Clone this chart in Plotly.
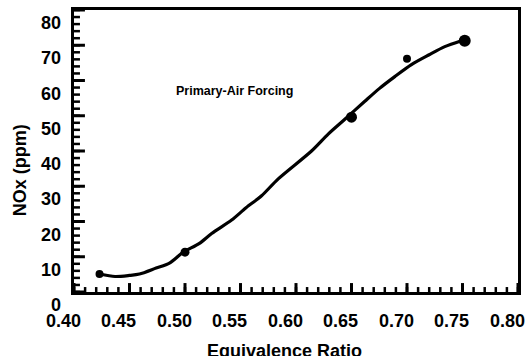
import plotly.graph_objects as go

# Smoothed NOx trend against equivalence ratio
curve_phi = [0.423, 0.437, 0.450, 0.459, 0.474, 0.486, 0.498, 0.513, 0.524, 0.542,
             0.555, 0.569, 0.584, 0.614, 0.629, 0.644, 0.662, 0.675, 0.689, 0.704,
             0.720, 0.734, 0.749]
curve_nox = [5.1, 4.4, 4.7, 5.1, 6.8, 8.2, 11.2, 13.8, 16.6, 20.4,
             23.9, 27.3, 32.1, 40.0, 44.8, 49.0, 54.1, 57.7, 61.1, 64.5,
             67.3, 69.6, 71.3]

# Measured points
meas_phi = [0.423, 0.500, 0.650, 0.700, 0.752]
meas_nox = [5.1, 11.3, 49.6, 66.2, 71.3]
meas_size = [8, 9, 11, 8, 12]

x_ticks = [0.40, 0.45, 0.50, 0.55, 0.60, 0.65, 0.70, 0.75, 0.80]
x_tick_text = ["0.40", "0.45", "0.50", "0.55", "0.60", "0.65", "0.70", "0.75", "0.80"]
y_ticks = [0, 10, 20, 30, 40, 50, 60, 70, 80]
y_tick_text = ["0", "10", "20", "30", "40", "50", "60", "70", "80"]

x_range = [0.40, 0.80]
y_range = [0, 80]
x_minor_count = 40   # one short tick every 0.01
y_minor_count = 40   # one short tick every 2 ppm

FONT = "Liberation Sans, Arial, sans-serif"
BOLD = dict(family=FONT, size=18, color="black", weight="bold")

# plot area in pixels, used to express tick lengths in data units
W, H = 528, 356
M_L, M_R, M_T, M_B = 74, 7, 8, 64
px_x = (x_range[1] - x_range[0]) / (W - M_L - M_R)
px_y = (y_range[1] - y_range[0]) / (H - M_T - M_B)

x_minor_vals = [round(x_range[0] + i * (x_range[1] - x_range[0]) / x_minor_count, 4)
                for i in range(x_minor_count + 1)]
y_minor_vals = [y_range[0] + i * (y_range[1] - y_range[0]) / y_minor_count
                for i in range(y_minor_count + 1)]


def tick_segments(values, length, along_x):
    xs, ys = [], []
    for v in values:
        v = float(v)
        if along_x:
            xs += [v, v, None]
            ys += [float(y_range[0]), y_range[0] + length * px_y, None]
        else:
            xs += [float(x_range[0]), x_range[0] + length * px_x, None]
            ys += [v, v, None]
    return xs, ys


fig = go.Figure()

# inward tick marks along the bottom and left axes
for vals, length, along_x, width in [
    (x_minor_vals, 5, True, 2.5), (x_ticks, 9, True, 3),
    (y_minor_vals, 6, False, 2.5), (y_ticks, 11, False, 3),
]:
    tx, ty = tick_segments(vals, length, along_x)
    fig.add_trace(go.Scatter(x=tx, y=ty, mode="lines",
                             line=dict(color="#000000", width=width),
                             showlegend=False, hoverinfo="skip"))

fig.add_trace(go.Scatter(
    x=curve_phi, y=curve_nox, mode="lines",
    line=dict(color="black", width=3.2, shape="spline", smoothing=0.8),
    showlegend=False, hoverinfo="skip"))
fig.add_trace(go.Scatter(
    x=meas_phi, y=meas_nox, mode="markers",
    marker=dict(color="black", size=meas_size, opacity=1,
                line=dict(color="black", width=0)),
    opacity=1, showlegend=False, cliponaxis=False))

# tick labels, printed slightly offset from their tick marks
for v, t in zip(x_ticks, x_tick_text):
    fig.add_annotation(x=v, y=0, xref="x", yref="y domain", text=t, showarrow=False,
                       font=BOLD, xanchor="center", yanchor="top",
                       xshift=-11, yshift=-17)
for v, t in zip(y_ticks, y_tick_text):
    fig.add_annotation(x=0, y=v, xref="x domain", yref="y", text=t, showarrow=False,
                       font=BOLD, xanchor="right", yanchor="middle",
                       xshift=-11, yshift=-13)

fig.add_annotation(
    x=0.545, y=56.9, xref="x", yref="y", text="Primary-Air Forcing",
    showarrow=False, font=dict(family=FONT, size=12.5, color="black", weight="bold"))

# axis titles
fig.add_annotation(
    x=0.474, y=-0.165, xref="x domain", yref="y domain", text="Equivalence Ratio",
    showarrow=False, font=BOLD, xanchor="center", yanchor="top")
fig.add_annotation(
    x=-0.121, y=0.433, xref="paper", yref="paper", text="NOx (ppm)",
    showarrow=False, font=BOLD, textangle=-90, xanchor="center", yanchor="middle")

fig.update_layout(
    width=W, height=H,
    margin=dict(l=M_L, r=M_R, t=M_T, b=M_B),
    paper_bgcolor="white", plot_bgcolor="white",
    font=dict(family=FONT, color="black"),
    xaxis=dict(range=x_range, showgrid=False, zeroline=False, showticklabels=False,
               showline=True, linecolor="black", linewidth=3, mirror=True, ticks=""),
    yaxis=dict(range=y_range, showgrid=False, zeroline=False, showticklabels=False,
               showline=True, linecolor="black", linewidth=3, mirror=True, ticks=""),
)

fig.write_html("out.html")
